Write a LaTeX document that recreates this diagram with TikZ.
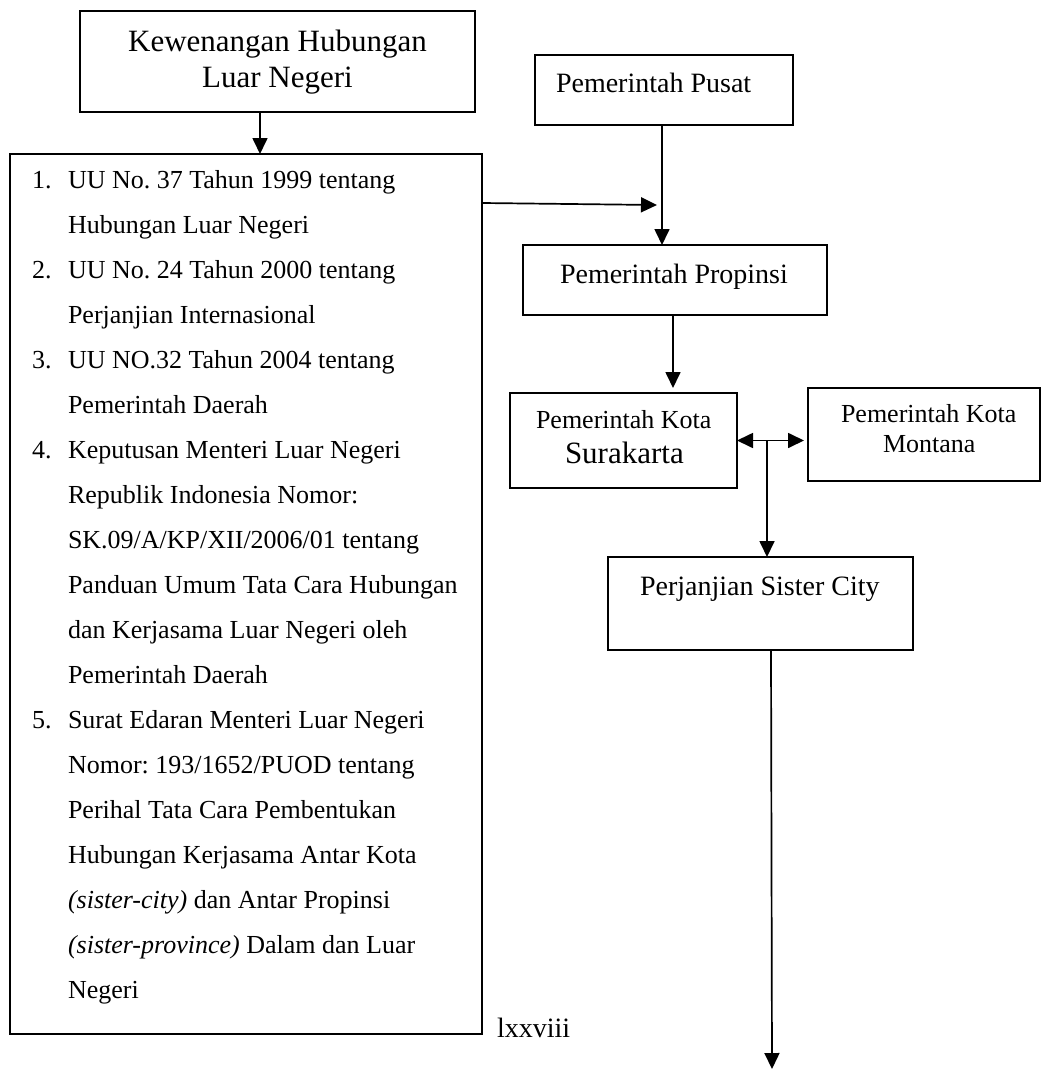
\documentclass[tikz,border=0pt]{standalone}
\usepackage{fontspec}
\setmainfont{Liberation Serif}
\usetikzlibrary{arrows.meta}
\frenchspacing
\begin{document}
\begin{tikzpicture}[x=1pt,y=-1pt,
  box/.style={draw=black, line width=1.2pt, inner sep=0pt, outer sep=0pt},
  arr/.style={line width=1.7pt, -{Triangle[length=16pt,width=15pt]}},
  darr/.style={line width=1.7pt, {Triangle[length=16pt,width=15pt]}-{Triangle[length=16pt,width=15pt]}},
  txt/.style={anchor=base west, inner sep=0pt, outer sep=0pt},
  ctxt/.style={anchor=base, inner sep=0pt, outer sep=0pt},
  fa/.style={font=\fontsize{26}{30}\selectfont},
  fb/.style={font=\fontsize{28}{32}\selectfont},
  fc/.style={font=\fontsize{31}{36}\selectfont},
  li/.style={txt, fa}]
\useasboundingbox (0,0) rectangle (1043,1070);

% boxes
\node[box, minimum width=395pt, minimum height=101pt] (kew) at (277.5,61.5) {};
\node[box, minimum width=472pt, minimum height=880pt] (list) at (246,594) {};
\node[box, minimum width=258pt, minimum height=70pt] (pusat) at (664,90) {};
\node[box, minimum width=304pt, minimum height=70pt] (prop) at (675,280) {};
\node[box, minimum width=227pt, minimum height=95pt] (sura) at (623.5,440.5) {};
\node[box, minimum width=232pt, minimum height=93pt] (mont) at (924,434.5) {};
\node[box, minimum width=305pt, minimum height=93pt] (perj) at (760.5,603.5) {};

% box texts
\node[ctxt, fc] (kewt1) at (277.5,52) {Kewenangan Hubungan};
\node[ctxt, fc] (kewt2) at (277.5,88) {Luar Negeri};
\node[txt, fb] (pusatt) at (556,93) {Pemerintah Pusat};
\node[txt, fb] (propt) at (560,283) {Pemerintah Propinsi};
\node[txt, fa] (surat1) at (536,428) {Pemerintah Kota};
\node[txt, fc] (surat2) at (565,463) {Surakarta};
\node[txt, fa] (montt1) at (841,422) {Pemerintah Kota};
\node[txt, fa] (montt2) at (883,452) {Montana};
\node[txt, fb] (perjt) at (640,595) {Perjanjian Sister City};
\node[txt, fb] (page) at (497,1037) {lxxviii};

% list
\node[li] (n1) at (32,188) {1.};
\node[li] (n2) at (32,278) {2.};
\node[li] (n3) at (32,368) {3.};
\node[li] (n4) at (32,458) {4.};
\node[li] (n5) at (32,728) {5.};
\node[li] (l1) at (68,188) {UU No. 37 Tahun 1999 tentang};
\node[li] (l2) at (68,233) {Hubungan Luar Negeri};
\node[li] (l3) at (68,278) {UU No. 24 Tahun 2000 tentang};
\node[li] (l4) at (68,323) {Perjanjian Internasional};
\node[li] (l5) at (68,368) {UU NO.32 Tahun 2004 tentang};
\node[li] (l6) at (68,413) {Pemerintah Daerah};
\node[li] (l7) at (68,458) {Keputusan Menteri Luar Negeri};
\node[li] (l8) at (68,503) {Republik Indonesia Nomor:};
\node[li] (l9) at (68,548) {SK.09/A/KP/XII/2006/01 tentang};
\node[li] (l10) at (68,593) {Panduan Umum Tata Cara Hubungan};
\node[li] (l11) at (68,638) {dan Kerjasama Luar Negeri oleh};
\node[li] (l12) at (68,683) {Pemerintah Daerah};
\node[li] (l13) at (68,728) {Surat Edaran Menteri Luar Negeri};
\node[li] (l14) at (68,773) {Nomor: 193/1652/PUOD tentang};
\node[li] (l15) at (68,818) {Perihal Tata Cara Pembentukan};
\node[li] (l16) at (68,863) {Hubungan Kerjasama Antar Kota};
\node[li] (l17) at (68,908) {\textit{(sister-city)} dan Antar Propinsi};
\node[li] (l18) at (68,953) {\textit{(sister-province)} Dalam dan Luar};
\node[li] (l19) at (68,998) {Negeri};

% connector helper coordinates
\coordinate (j1) at (657,205);
\coordinate (j2) at (767,441);
\coordinate (bot) at (772,1069);

% connectors
\draw[arr] ([xshift=-17.5pt]kew.south) -- ([xshift=14pt]list.north);
\draw[arr] ([yshift=391pt]list.east) -- (j1);
\draw[arr] ([xshift=-2pt]pusat.south) -- ([xshift=-13pt]prop.north);
\draw[arr, shorten >=5pt] ([xshift=-2pt]prop.south) -- ([xshift=49.5pt]sura.north);
\draw[darr, shorten >=4pt] (sura.east) -- (sura.east -| mont.west);
\draw[arr] (j2) -- (perj.north -| j2);
\draw[arr] ([xshift=10.5pt]perj.south) -- (bot);
\end{tikzpicture}
\end{document}
